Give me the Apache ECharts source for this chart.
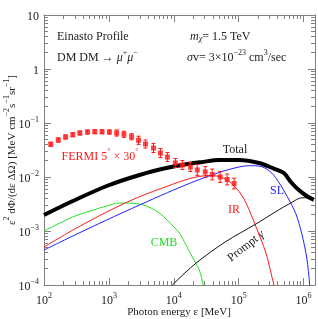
<!DOCTYPE html>
<html><head><meta charset="utf-8">
<script src="https://cdn.jsdelivr.net/npm/echarts@6/dist/echarts.min.js"></script>
<style>html,body{margin:0;padding:0;background:#fff}#c{width:318px;height:319px}</style>
</head><body><div id="c"></div>
<script>
// ---- data (energy in MeV, value in MeV cm^-2 s^-1 sr^-1) ----
const totalE = [100, 278, 925, 2968, 7976, 17350, 26510, 50040, 101400, 205600, 349000, 497000, 636500, 844200, 1120000, 1434000];
const totalV = [0.00198, 0.00359, 0.00681, 0.01089, 0.01479, 0.01758, 0.01884, 0.02064, 0.02064, 0.01817, 0.0143, 0.01186, 0.00808, 0.00574, 0.00445, 0.0038];

const cmbE = [100, 278, 508, 925, 1464, 2968, 4533, 6014, 7976, 12190, 14540, 19290, 24700, 28440, 31620];
const cmbV = [0.001, 0.00182, 0.00234, 0.0029, 0.0033, 0.00316, 0.00263, 0.00215, 0.00158, 0.000918, 0.00063, 0.00033, 0.00019, 0.0001, 0.0000528];

const irE = [100, 278, 925, 2765, 7976, 17350, 35160, 50040, 71250, 101400, 129900, 184900, 263200, 325300, 349000, 374600];
const irV = [0.000505, 0.00104, 0.00225, 0.00417, 0.00676, 0.00933, 0.01072, 0.01023, 0.00832, 0.00537, 0.00331, 0.00119, 0.000391, 0.000141, 0.0001, 0.0000528];

const slE = [100, 278, 925, 2968, 7976, 17350, 35160, 71250, 144400, 228500, 325300, 416500, 552600, 759300, 938600, 1120000, 1245000, 1290000];
const slV = [0.000445, 0.000808, 0.0016, 0.00303, 0.00513, 0.00759, 0.01047, 0.0138, 0.01622, 0.01549, 0.01175, 0.00794, 0.00447, 0.00209, 0.00089, 0.000316, 0.0001, 0.0000528];

const promptE = [8558, 9517, 22220, 61850, 184900, 374600, 659200, 938600, 1200000, 1434000];
const promptV = [0.0000807, 0.0001, 0.000256, 0.000626, 0.00135, 0.00229, 0.00339, 0.00412, 0.00407, 0.00355];

const fermiE = [127, 166, 215, 278, 357, 468, 606, 784, 1018, 1317, 1704, 2237, 2865, 3668, 4865, 6230, 7976, 10580, 13550, 17970, 23010, 30520, 39080, 51830, 66390, 85000];
const fermiV = [0.0404, 0.0484, 0.0551, 0.0607, 0.0653, 0.0681, 0.0690, 0.0690, 0.0681, 0.0653, 0.0618, 0.0557, 0.0478, 0.0408, 0.0344, 0.0278, 0.0234, 0.0182, 0.0167, 0.0153, 0.0135, 0.0124, 0.0111, 0.0100, 0.0090, 0.00758];
// multiplicative error factor (bar spans v/f .. v*f)
const fermiErr = [1.09, 1.09, 1.09, 1.09, 1.09, 1.09, 1.09, 1.09, 1.09, 1.14, 1.14, 1.14, 1.19, 1.19, 1.21, 1.21, 1.21, 1.21, 1.21, 1.21, 1.26, 1.26, 1.26, 1.26, 1.26, 1.26];

const xMajor = [1e2, 1e3, 1e4, 1e5, 1e6];
const yMajor = [1e-4, 1e-3, 1e-2, 1e-1, 1, 10];

// ---- build ----
function pairs(a, b) { return a.map((x, i) => [x, b[i]]); }
function minorTicks(n0, n1, lo, hi) {
  const out = [];
  for (let n = n0; n <= n1; n++) for (let k = 2; k <= 9; k++) {
    const v = k * Math.pow(10, n);
    if (v > lo && v < hi) out.push(v);
  }
  return out;
}
const XMIN = 100, XMAX = 1.5e6, YMIN = 1e-4, YMAX = 10;
const xMinor = minorTicks(2, 6, XMIN, XMAX);
const yMinor = minorTicks(-4, 0, YMIN, YMAX);
const serif = 'Liberation Serif';
const axisCol = '#808080';
const txt = '#222';

const richBase = {
  b: { fontFamily: serif, fontSize: 12, color: txt, lineHeight: 15, verticalAlign: 'bottom' },
  s: { fontFamily: serif, fontSize: 8, color: txt, lineHeight: 15, verticalAlign: 'top' }
};
function expLabel(v, allowPlain) {
  const e = Math.round(Math.log10(v));
  if (allowPlain && e === 0) return '{b|1}';
  if (allowPlain && e === 1) return '{b|10}';
  return '{b|10}{s|' + (e < 0 ? '\u2212' + (-e) : e) + '}';
}

function xAx(pos, major, show) {
  return {
    type: 'log', logBase: 10, min: XMIN, max: XMAX, position: pos,
    axisLine: { show: show, onZero: false, lineStyle: { color: axisCol, width: 1 } },
    axisTick: { show: true, inside: true, length: major ? 7 : 4, customValues: major ? xMajor : xMinor, lineStyle: { color: axisCol } },
    axisLabel: pos === 'bottom' && major ? { show: true, customValues: xMajor, margin: 7, formatter: v => expLabel(v, false), rich: richBase } : { show: false },
    splitLine: { show: false }, minorTick: { show: false }
  };
}
function yAx(pos, major, show) {
  return {
    type: 'log', logBase: 10, min: YMIN, max: YMAX, position: pos,
    axisLine: { show: show, onZero: false, lineStyle: { color: axisCol, width: 1 } },
    axisTick: { show: true, inside: true, length: major ? 7 : 4, customValues: major ? yMajor : yMinor, lineStyle: { color: axisCol } },
    axisLabel: pos === 'left' && major ? { show: true, customValues: yMajor, margin: 5, formatter: v => expLabel(v, true), rich: richBase } : { show: false },
    splitLine: { show: false }, minorTick: { show: false }
  };
}

function lineSeries(name, E, V, color, width) {
  return {
    name: name, type: 'line', xAxisIndex: 0, yAxisIndex: 0,
    data: pairs(E, V), showSymbol: false, symbol: 'none', smooth: 0.3,
    lineStyle: { color: color, width: width }, clip: true, silent: true, z: 3
  };
}

const errData = fermiE.map((e, i) => [e, fermiV[i] / fermiErr[i], fermiV[i] * fermiErr[i]]);

const red = '#ff1a1a', green = '#22e022', blue = '#1f1fff';

const chart = echarts.init(document.getElementById('c'), null, { renderer: 'canvas' });
const T = (x, y, text, color, extra) => Object.assign({
  type: 'text', x: x, y: y, silent: true,
  style: Object.assign({ text: text, fill: color || txt, font: '12px "' + serif + '"', align: 'center', verticalAlign: 'middle',
    rich: {
      s: { fontFamily: serif, fontSize: 8, fill: color || txt, verticalAlign: 'top', lineHeight: 15 },
      i: { fontFamily: serif, fontSize: 12, fontStyle: 'italic', fill: color || txt, verticalAlign: 'bottom', lineHeight: 15 },
      sub: { fontFamily: serif, fontSize: 8, fontStyle: 'italic', fill: color || txt, verticalAlign: 'bottom', lineHeight: 6 },
      n: { fontFamily: serif, fontSize: 12, fill: color || txt, verticalAlign: 'bottom', lineHeight: 15 },
      t: { fontFamily: serif, fontSize: 11, fill: color || txt, verticalAlign: 'bottom', lineHeight: 15 }
    } }, extra && extra.style || {})
}, extra && extra.el || {});

chart.setOption({
  animation: false,
  backgroundColor: '#fff',
  grid: { left: 44, right: 3, top: 15, bottom: 34, containLabel: false },
  xAxis: [xAx('bottom', true, true), xAx('bottom', false, false), xAx('top', true, true), xAx('top', false, false)],
  yAxis: [yAx('left', true, true), yAx('left', false, false), yAx('right', true, true), yAx('right', false, false)],
  series: [
    lineSeries('CMB', cmbE, cmbV, green, 1),
    lineSeries('IR', irE, irV, red, 1),
    lineSeries('SL', slE, slV, blue, 1),
    lineSeries('Prompt', promptE, promptV, '#111', 1),
    lineSeries('Total', totalE, totalV, '#000', 4),
    {
      type: 'custom', name: 'FERMI err', xAxisIndex: 0, yAxisIndex: 0, data: errData, silent: true, z: 4,
      renderItem: function (params, api) {
        const e = api.value(0);
        const lo = api.coord([e, api.value(1)]);
        const hi = api.coord([e, api.value(2)]);
        const c = 2;
        const st = { stroke: red, lineWidth: 1 };
        return { type: 'group', children: [
          { type: 'line', shape: { x1: lo[0], y1: lo[1], x2: hi[0], y2: hi[1] }, style: st },
          { type: 'line', shape: { x1: lo[0] - c, y1: lo[1], x2: lo[0] + c, y2: lo[1] }, style: st },
          { type: 'line', shape: { x1: hi[0] - c, y1: hi[1], x2: hi[0] + c, y2: hi[1] }, style: st }
        ] };
      }
    },
    {
      type: 'scatter', name: 'FERMI', xAxisIndex: 0, yAxisIndex: 0, data: pairs(fermiE, fermiV),
      symbol: 'rect', symbolSize: 5, itemStyle: { color: red }, silent: true, z: 5
    }
  ],
  graphic: [
    T(57, 35, '{n|Einasto Profile}', txt, { style: { align: 'left' } }),
    T(57, 56, '{n|DM DM \u2192 }{i|\u03bc}{s|+}{i|\u03bc}{s|\u2212}', txt, { style: { align: 'left' } }),
    T(190, 35, '{i|m}{sub|\u03c7}{n|= 1.5 TeV}', txt, { style: { align: 'left' } }),
    T(187, 56, '{i|\u03c3}{n|v= 3\u00d710}{s|\u221223}{n| cm}{s|3}{n|/sec}', txt, { style: { align: 'left' } }),
    T(100, 155, '{n|FERMI 5}{s|\u00b0}{n| \u00d7 30}{s|\u00b0}', red),
    T(235, 148, '{n|Total}', txt),
    T(234, 208, '{n|IR}', red),
    T(277, 189, '{n|SL}', blue),
    T(164, 241, '{n|CMB}', green),
    T(245, 245, '{n|Prompt }{i|\u03b3}', txt, { el: { rotation: 38 * Math.PI / 180 } }),
    T(179, 310, '{t|Photon energy }{t|\u03b5}{t| [MeV]}', txt),
    T(10, 150, '{t|\u03b5}{s|2}{t| d\u03a6/(d\u03b5 \u0394\u03a9) [MeV cm}{s|\u22122}{t|s}{s|\u22121}{t|sr}{s|\u22121}{t|]}', txt, { el: { rotation: Math.PI / 2 } })
  ]
});
</script></body></html>
